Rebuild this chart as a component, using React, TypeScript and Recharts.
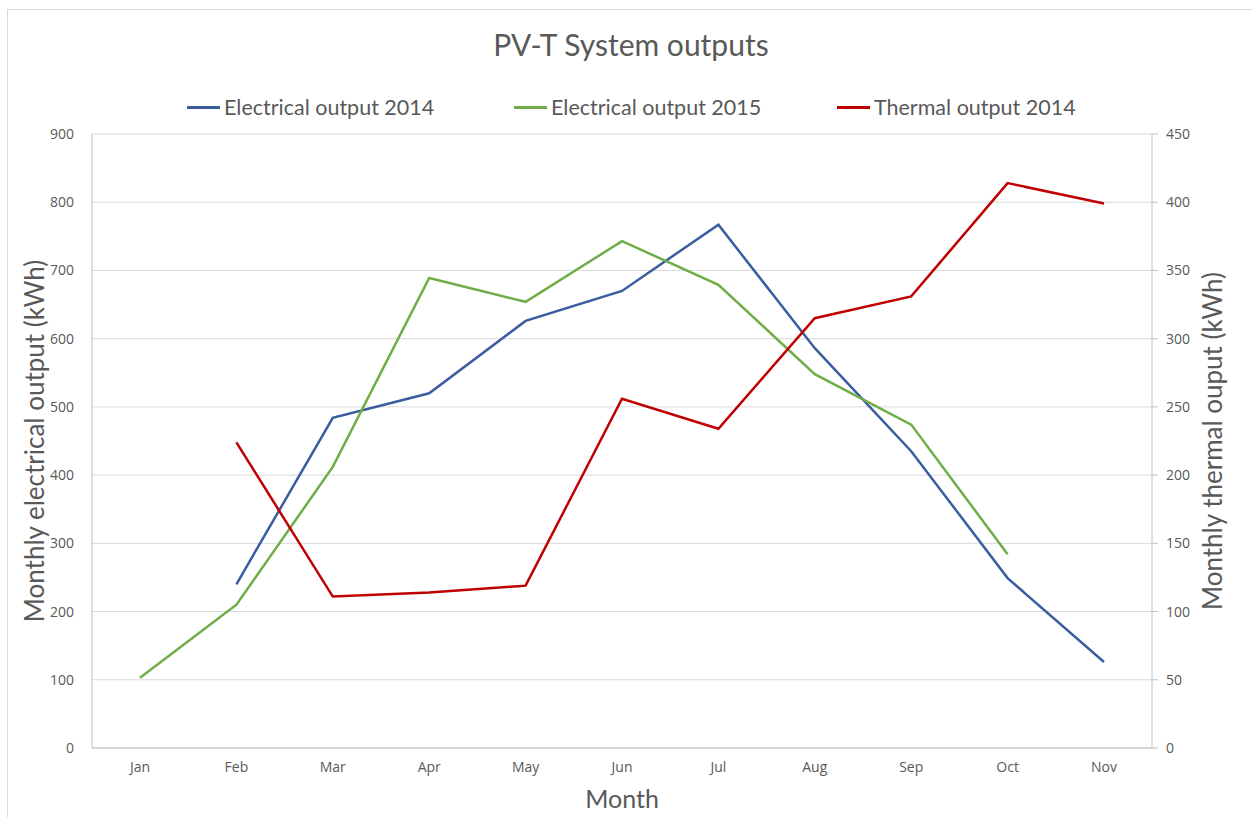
import { LineChart, Line, XAxis, YAxis, CartesianGrid } from 'recharts';

const months = ['Jan', 'Feb', 'Mar', 'Apr', 'May', 'Jun', 'Jul', 'Aug', 'Sep', 'Oct', 'Nov'];
const elec2014 = [null, 240, 484, 520, 626, 670, 767, 586, 435, 249, 126];
const elec2015 = [103, 210, 412, 689, 654, 743, 679, 548, 474, 284, null];
const thermal2014 = [null, 224, 111, 114, 119, 256, 234, 315, 331, 414, 399];

const leftTicks = [0, 100, 200, 300, 400, 500, 600, 700, 800, 900];
const rightTicks = [0, 50, 100, 150, 200, 250, 300, 350, 400, 450];

const series = [
  { key: 'elec2014', name: 'Electrical output 2014', color: '#3A5DA0', axis: 'left', legendX: 179 },
  { key: 'elec2015', name: 'Electrical output 2015', color: '#70AD47', axis: 'left', legendX: 506 },
  { key: 'thermal2014', name: 'Thermal output 2014', color: '#C00000', axis: 'right', legendX: 829 },
];

const data = months.map((m, i) => ({
  month: m,
  elec2014: elec2014[i],
  elec2015: elec2015[i],
  thermal2014: thermal2014[i],
}));

const textColor = '#595959';
const titleFont = 'Lato, "Open Sans", sans-serif';
const tickFont = '"Open Sans", "Noto Sans", sans-serif';

export default function App() {
  const tick = { fontSize: 14, fill: textColor, fontFamily: tickFont };
  return (
    <div
      style={{
        position: 'fixed', left: 7, top: 9, width: 1245, height: 808,
        borderLeft: '1px solid #d9d9d9', borderTop: '1px solid #d9d9d9',
        overflow: 'hidden', background: '#fff',
      }}
    >
      <div
        style={{
          position: 'absolute', left: 0, top: 16, width: 1246, textAlign: 'center',
          fontFamily: titleFont, fontSize: 30, color: textColor,
        }}
      >
        PV-T System outputs
      </div>
      {series.map((s) => (
        <div
          key={s.key}
          style={{
            position: 'absolute', left: s.legendX, top: 84, display: 'flex', alignItems: 'center',
            fontFamily: titleFont, fontSize: 21.5, color: textColor, whiteSpace: 'nowrap',
          }}
        >
          <span style={{ display: 'inline-block', width: 33, height: 3, background: s.color, marginRight: 4 }} />
          {s.name}
        </div>
      ))}
      <LineChart width={1244} height={807} data={data} margin={{ top: 124, right: 0, bottom: 9, left: 0 }}>
        <CartesianGrid vertical={false} stroke="#d9d9d9" yAxisId="left" />
        <XAxis
          dataKey="month"
          height={60}
          padding={{ left: 48, right: 48 }}
          stroke="#bfbfbf"
          tickLine={false}
          tickSize={0}
          tickMargin={14}
          tick={tick}
          label={{ value: 'Month', position: 'insideBottom', offset: 0, fontSize: 25, fill: textColor, fontFamily: titleFont }}
        />
        <YAxis
          yAxisId="left"
          width={84}
          domain={[0, 900]}
          ticks={leftTicks}
          stroke="#bfbfbf"
          tickLine={false}
          tickMargin={12}
          tick={tick}
          label={{
            value: 'Monthly electrical output (kWh)', angle: -90, position: 'center', dx: -15,
            fontSize: 26, fill: textColor, fontFamily: titleFont,
          }}
        />
        <YAxis
          yAxisId="right"
          orientation="right"
          width={100}
          domain={[0, 450]}
          ticks={rightTicks}
          stroke="#bfbfbf"
          tickSize={6}
          tickMargin={8}
          tick={tick}
          label={{
            value: 'Monthly thermal ouput (kWh)', angle: -90, position: 'center', dx: 11,
            fontSize: 26, fill: textColor, fontFamily: titleFont,
          }}
        />
        {series.map((s) => (
          <Line
            key={s.key}
            yAxisId={s.axis}
            dataKey={s.key}
            name={s.name}
            stroke={s.color}
            strokeWidth={2.5}
            dot={false}
            activeDot={false}
            connectNulls={false}
            isAnimationActive={false}
          />
        ))}
      </LineChart>
    </div>
  );
}
